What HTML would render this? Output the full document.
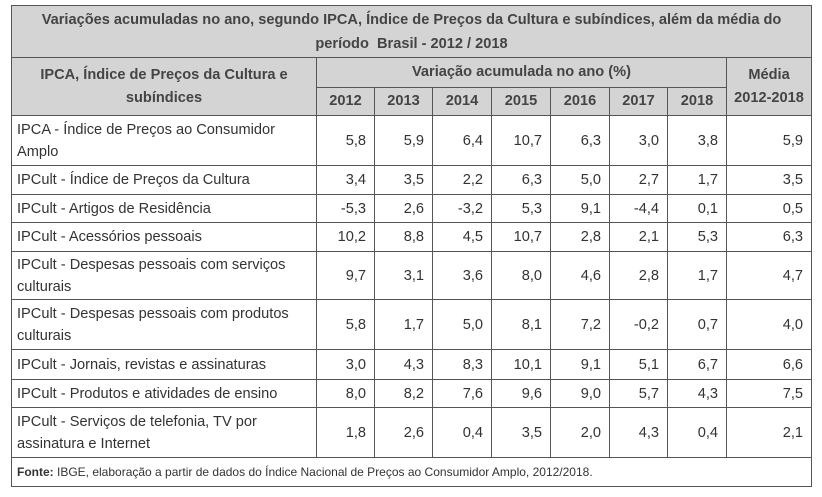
<!DOCTYPE html>
<html><head><meta charset="utf-8"><style>
body{margin:0;background:#fff;width:822px;height:497px;overflow:hidden;font-family:"Liberation Sans",sans-serif;color:#333}
table{position:absolute;left:11px;top:5px;border-collapse:collapse;table-layout:fixed;width:800px}
td,th{border:1.5px solid #555;padding:0 8px;font-size:14.6px}
th{background:#d4d4d4;font-weight:bold;text-align:center;color:#444;line-height:23px;padding:0 2px;white-space:nowrap}
td{text-align:right;line-height:22px}
td.l{text-align:left;padding-left:5px}
.title th{font-size:14.6px;line-height:24px;white-space:normal}
.foot td{text-align:left;font-size:12px;padding-left:5px}
</style></head><body>
<table>
<colgroup><col style="width:305px"><col style="width:58px"><col style="width:58px"><col style="width:59px"><col style="width:59px"><col style="width:59px"><col style="width:58px"><col style="width:59px"><col style="width:85px"></colgroup>
<tr class="title" style="height:52px"><th colspan="9">Variações acumuladas no ano, segundo IPCA, Índice de Preços da Cultura e subíndices, além da média do período&nbsp; Brasil - 2012 / 2018</th></tr>
<tr style="height:30px"><th rowspan="2">IPCA, Índice de Preços da Cultura e<br>subíndices</th><th colspan="7">Variação acumulada no ano (%)</th><th rowspan="2">Média<br>2012-2018</th></tr>
<tr style="height:28px"><th>2012</th><th>2013</th><th>2014</th><th>2015</th><th>2016</th><th>2017</th><th>2018</th></tr>
<tr style="height:50px"><td class="l">IPCA - Índice de Preços ao Consumidor<br>Amplo</td><td>5,8</td><td>5,9</td><td>6,4</td><td>10,7</td><td>6,3</td><td>3,0</td><td>3,8</td><td>5,9</td></tr>
<tr style="height:29px"><td class="l">IPCult - Índice de Preços da Cultura</td><td>3,4</td><td>3,5</td><td>2,2</td><td>6,3</td><td>5,0</td><td>2,7</td><td>1,7</td><td>3,5</td></tr>
<tr style="height:28px"><td class="l">IPCult - Artigos de Residência</td><td>-5,3</td><td>2,6</td><td>-3,2</td><td>5,3</td><td>9,1</td><td>-4,4</td><td>0,1</td><td>0,5</td></tr>
<tr style="height:29px"><td class="l">IPCult - Acessórios pessoais</td><td>10,2</td><td>8,8</td><td>4,5</td><td>10,7</td><td>2,8</td><td>2,1</td><td>5,3</td><td>6,3</td></tr>
<tr style="height:48px"><td class="l">IPCult - Despesas pessoais com serviços<br>culturais</td><td>9,7</td><td>3,1</td><td>3,6</td><td>8,0</td><td>4,6</td><td>2,8</td><td>1,7</td><td>4,7</td></tr>
<tr style="height:50px"><td class="l">IPCult - Despesas pessoais com produtos<br>culturais</td><td>5,8</td><td>1,7</td><td>5,0</td><td>8,1</td><td>7,2</td><td>-0,2</td><td>0,7</td><td>4,0</td></tr>
<tr style="height:30px"><td class="l">IPCult - Jornais, revistas e assinaturas</td><td>3,0</td><td>4,3</td><td>8,3</td><td>10,1</td><td>9,1</td><td>5,1</td><td>6,7</td><td>6,6</td></tr>
<tr style="height:28px"><td class="l">IPCult - Produtos e atividades de ensino</td><td>8,0</td><td>8,2</td><td>7,6</td><td>9,6</td><td>9,0</td><td>5,7</td><td>4,3</td><td>7,5</td></tr>
<tr style="height:50px"><td class="l">IPCult - Serviços de telefonia, TV por<br>assinatura e Internet</td><td>1,8</td><td>2,6</td><td>0,4</td><td>3,5</td><td>2,0</td><td>4,3</td><td>0,4</td><td>2,1</td></tr>
<tr class="foot" style="height:29px"><td colspan="9"><b>Fonte:</b> IBGE, elaboração a partir de dados do Índice Nacional de Preços ao Consumidor Amplo, 2012/2018.</td></tr>
</table>
</body></html>
